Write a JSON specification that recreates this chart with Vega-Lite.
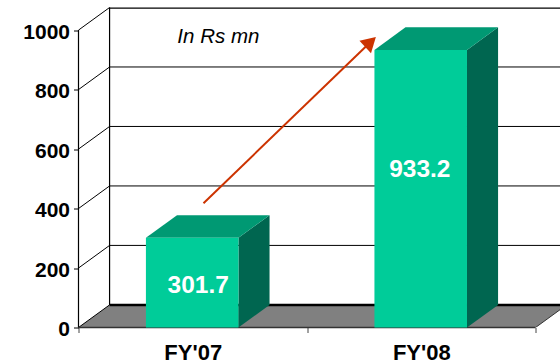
{
  "$schema": "https://vega.github.io/schema/vega-lite/v6.json",
  "width": 481.5,
  "height": 320,
  "padding": {"left": 78.5, "top": 7.5, "right": 0, "bottom": 33.5},
  "autosize": "none",
  "background": "white",
  "view": {"stroke": null},
  "config": {"font": "Liberation Sans"},
  "resolve": {"axis": {"x": "independent", "y": "independent"}},
  "datasets": {
    "bars": [
      {"period": "FY'07", "revenue": 301.7, "slot": 0},
      {"period": "FY'08", "revenue": 933.2, "slot": 1}
    ],
    "levels": [
      {"level": 0}, {"level": 200}, {"level": 400},
      {"level": 600}, {"level": 800}, {"level": 1000}
    ],
    "frame": [{"low": 0, "high": 1000, "start": 0, "end": 2}],
    "growth": [{"fromSlot": 0.547, "fromValue": 418, "toSlot": 1.278, "toValue": 960, "tipSlot": 1.278, "tipValue": 960}],
    "note": [{"text": "In Rs mn", "slot": 0.612, "value": 978}]
  },
  "layer": [
    {
      "description": "Grey floor of the 3D box",
      "data": {"name": "frame"},
      "transform": [
        {"calculate": "[0,1,2,3]", "as": "k"},
        {"flatten": ["k"]},
        {"calculate": "[0,0.136,2,2.136][datum.k]", "as": "px"},
        {"calculate": "[0,0,0,76][datum.k]", "as": "lo"},
        {"calculate": "[0,76,76,76][datum.k]", "as": "hi"}
      ],
      "mark": {"type": "area", "color": "#808080", "clip": true},
      "encoding": {
        "x": {
          "field": "px", "type": "quantitative",
          "scale": {"domain": [0, 2.107], "nice": false, "zero": false},
          "axis": {
            "title": null, "grid": false, "domain": false,
            "values": [0, 0.5, 1, 1.5, 2],
            "labelExpr": "datum.value == 0.5 ? \"FY'07\" : datum.value == 1.5 ? \"FY'08\" : ''",
            "tickOpacity": {"condition": {"test": "datum.value == 0.5 || datum.value == 1.5", "value": 0}, "value": 1},
            "tickColor": "#444444", "tickSize": 5, "labelFontSize": 22, "labelFontWeight": "bold",
            "labelColor": "black", "labelPadding": 10, "labelFlush": false, "labelOverlap": false
          }
        },
        "y": {
          "field": "lo", "type": "quantitative", "stack": null,
          "scale": {"domain": [0, 1076], "nice": false, "zero": false},
          "axis": {
            "title": null, "grid": false, "domain": false, "format": "d",
            "values": [0, 200, 400, 600, 800, 1000],
            "tickColor": "black", "tickSize": 5, "labelFontSize": 21, "labelFontWeight": "bold",
            "labelColor": "black", "labelPadding": 4, "labelFlush": false, "labelOverlap": false, "labelBaseline": "middle", "labelOffset": 2
          }
        },
        "y2": {"field": "hi"}
      }
    },
    {
      "description": "Gridlines across the back wall",
      "data": {"name": "levels"},
      "transform": [
        {"calculate": "datum.level + 76", "as": "backLevel"},
        {"calculate": "0.136", "as": "wallStart"},
        {"calculate": "2.136", "as": "wallEnd"}
      ],
      "mark": {"type": "rule", "color": "black", "clip": true},
      "encoding": {
        "x": {"field": "wallStart", "type": "quantitative", "scale": {"domain": [0, 2.107], "nice": false, "zero": false}, "axis": null},
        "x2": {"field": "wallEnd"},
        "y": {"field": "backLevel", "type": "quantitative", "scale": {"domain": [0, 1076], "nice": false, "zero": false}, "axis": null},
        "strokeWidth": {"condition": {"test": "datum.level == 0 || datum.level == 1000", "value": 2.5}, "value": 1}
      }
    },
    {
      "description": "Gridlines running up the left wall",
      "data": {"name": "levels"},
      "transform": [
        {"calculate": "datum.level + 76", "as": "backLevel"},
        {"calculate": "0", "as": "frontX"},
        {"calculate": "0.136", "as": "backX"}
      ],
      "mark": {"type": "rule", "color": "black", "strokeWidth": 1},
      "encoding": {
        "x": {"field": "frontX", "type": "quantitative", "scale": {"domain": [0, 2.107], "nice": false, "zero": false}, "axis": null},
        "x2": {"field": "backX"},
        "y": {"field": "level", "type": "quantitative", "scale": {"domain": [0, 1076], "nice": false, "zero": false}, "axis": null},
        "y2": {"field": "backLevel"}
      }
    },
    {
      "description": "Front and back vertical edges of the left wall",
      "data": {"name": "frame"},
      "transform": [
        {"calculate": "[0,1]", "as": "edge"},
        {"flatten": ["edge"]},
        {"calculate": "datum.edge * 0.136", "as": "edgeX"},
        {"calculate": "datum.low + datum.edge * 76", "as": "edgeLow"},
        {"calculate": "datum.high + datum.edge * 76", "as": "edgeHigh"}
      ],
      "mark": {"type": "rule", "color": "black", "strokeWidth": 1.2},
      "encoding": {
        "x": {"field": "edgeX", "type": "quantitative", "scale": {"domain": [0, 2.107], "nice": false, "zero": false}, "axis": null},
        "y": {"field": "edgeLow", "type": "quantitative", "scale": {"domain": [0, 1076], "nice": false, "zero": false}, "axis": null},
        "y2": {"field": "edgeHigh"}
      }
    },
    {
      "description": "Front edge of the floor",
      "data": {"name": "frame"},
      "mark": {"type": "rule", "color": "#333333", "strokeWidth": 1.5},
      "encoding": {
        "x": {"field": "start", "type": "quantitative", "scale": {"domain": [0, 2.107], "nice": false, "zero": false}, "axis": null},
        "x2": {"field": "end"},
        "y": {"field": "low", "type": "quantitative", "scale": {"domain": [0, 1076], "nice": false, "zero": false}, "axis": null}
      }
    },
    {
      "description": "Right edge of the floor",
      "data": {"name": "frame"},
      "transform": [
        {"calculate": "datum.end + 0.136", "as": "backEnd"},
        {"calculate": "datum.low + 76", "as": "backLow"}
      ],
      "mark": {"type": "rule", "color": "#333333", "strokeWidth": 1, "clip": true},
      "encoding": {
        "x": {"field": "end", "type": "quantitative", "scale": {"domain": [0, 2.107], "nice": false, "zero": false}, "axis": null},
        "x2": {"field": "backEnd"},
        "y": {"field": "low", "type": "quantitative", "scale": {"domain": [0, 1076], "nice": false, "zero": false}, "axis": null},
        "y2": {"field": "backLow"}
      }
    },
    {
      "description": "Shaded right side of each column",
      "data": {"name": "bars"},
      "transform": [
        {"calculate": "[0,1]", "as": "k"},
        {"flatten": ["k"]},
        {"calculate": "datum.slot + 0.7 + datum.k * 0.136", "as": "px"},
        {"calculate": "datum.k * 76", "as": "lo"},
        {"calculate": "datum.revenue + datum.k * 76", "as": "hi"}
      ],
      "mark": {"type": "area", "color": "#006650"},
      "encoding": {
        "x": {"field": "px", "type": "quantitative", "scale": {"domain": [0, 2.107], "nice": false, "zero": false}, "axis": null},
        "y": {"field": "lo", "type": "quantitative", "stack": null, "scale": {"domain": [0, 1076], "nice": false, "zero": false}, "axis": null},
        "y2": {"field": "hi"},
        "detail": {"field": "period"}
      }
    },
    {
      "description": "Top face of each column",
      "data": {"name": "bars"},
      "transform": [
        {"calculate": "[0,1,2,3]", "as": "k"},
        {"flatten": ["k"]},
        {"calculate": "datum.slot + [0.295,0.431,0.7,0.836][datum.k]", "as": "px"},
        {"calculate": "datum.revenue + [0,0,0,76][datum.k]", "as": "lo"},
        {"calculate": "datum.revenue + [0,76,76,76][datum.k]", "as": "hi"}
      ],
      "mark": {"type": "area", "color": "#009973"},
      "encoding": {
        "x": {"field": "px", "type": "quantitative", "scale": {"domain": [0, 2.107], "nice": false, "zero": false}, "axis": null},
        "y": {"field": "lo", "type": "quantitative", "stack": null, "scale": {"domain": [0, 1076], "nice": false, "zero": false}, "axis": null},
        "y2": {"field": "hi"},
        "detail": {"field": "period"}
      }
    },
    {
      "description": "Front face of each column",
      "data": {"name": "bars"},
      "transform": [
        {"calculate": "datum.slot + 0.295", "as": "left"},
        {"calculate": "datum.slot + 0.7", "as": "right"},
        {"calculate": "0", "as": "base"}
      ],
      "mark": {"type": "rect", "color": "#00CC99"},
      "encoding": {
        "x": {"field": "left", "type": "quantitative", "scale": {"domain": [0, 2.107], "nice": false, "zero": false}, "axis": null},
        "x2": {"field": "right"},
        "y": {"field": "revenue", "type": "quantitative", "scale": {"domain": [0, 1076], "nice": false, "zero": false}, "axis": null},
        "y2": {"field": "base"}
      }
    },
    {
      "description": "Shaft of the growth arrow",
      "data": {"name": "growth"},
      "mark": {"type": "rule", "color": "#CC3300", "strokeWidth": 2},
      "encoding": {
        "x": {"field": "fromSlot", "type": "quantitative", "scale": {"domain": [0, 2.107], "nice": false, "zero": false}, "axis": null},
        "x2": {"field": "toSlot"},
        "y": {"field": "fromValue", "type": "quantitative", "scale": {"domain": [0, 1076], "nice": false, "zero": false}, "axis": null},
        "y2": {"field": "toValue"}
      }
    },
    {
      "description": "Head of the growth arrow",
      "data": {"name": "growth"},
      "mark": {"type": "point", "shape": "triangle-up", "filled": true, "opacity": 1, "color": "#CC3300", "size": 285, "angle": 46.8},
      "encoding": {
        "x": {"field": "tipSlot", "type": "quantitative", "scale": {"domain": [0, 2.107], "nice": false, "zero": false}, "axis": null},
        "y": {"field": "tipValue", "type": "quantitative", "scale": {"domain": [0, 1076], "nice": false, "zero": false}, "axis": null}
      }
    },
    {
      "description": "Value label on the FY'07 column",
      "data": {"name": "bars"},
      "transform": [
        {"filter": "datum.period == \"FY'07\""},
        {"calculate": "datum.slot + 0.5", "as": "mid"},
        {"calculate": "datum.revenue / 2", "as": "half"}
      ],
      "mark": {"type": "text", "color": "white", "fontSize": 24.5, "fontWeight": "bold", "align": "center", "baseline": "middle", "dx": 5.5, "dy": 3},
      "encoding": {
        "x": {"field": "mid", "type": "quantitative", "scale": {"domain": [0, 2.107], "nice": false, "zero": false}, "axis": null},
        "y": {"field": "half", "type": "quantitative", "scale": {"domain": [0, 1076], "nice": false, "zero": false}, "axis": null},
        "text": {"field": "revenue", "type": "quantitative", "format": ".1f"}
      }
    },
    {
      "description": "Value label on the FY'08 column",
      "data": {"name": "bars"},
      "transform": [
        {"filter": "datum.period == \"FY'08\""},
        {"calculate": "datum.slot + 0.5", "as": "mid"},
        {"calculate": "datum.revenue / 2", "as": "half"}
      ],
      "mark": {"type": "text", "color": "white", "fontSize": 24.5, "fontWeight": "bold", "align": "center", "baseline": "middle", "dx": -1.5, "dy": -19},
      "encoding": {
        "x": {"field": "mid", "type": "quantitative", "scale": {"domain": [0, 2.107], "nice": false, "zero": false}, "axis": null},
        "y": {"field": "half", "type": "quantitative", "scale": {"domain": [0, 1076], "nice": false, "zero": false}, "axis": null},
        "text": {"field": "revenue", "type": "quantitative", "format": ".1f"}
      }
    },
    {
      "description": "Unit note",
      "data": {"name": "note"},
      "mark": {"type": "text", "color": "black", "fontSize": 20.5, "fontStyle": "italic", "align": "center", "baseline": "middle"},
      "encoding": {
        "x": {"field": "slot", "type": "quantitative", "scale": {"domain": [0, 2.107], "nice": false, "zero": false}, "axis": null},
        "y": {"field": "value", "type": "quantitative", "scale": {"domain": [0, 1076], "nice": false, "zero": false}, "axis": null},
        "text": {"field": "text"}
      }
    }
  ]
}
